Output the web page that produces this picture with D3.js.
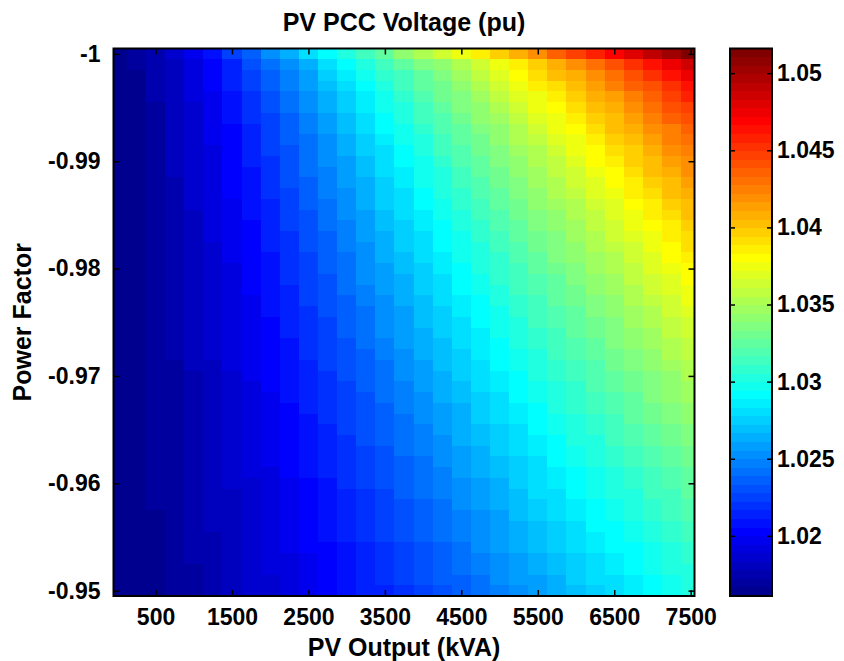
<!DOCTYPE html>
<html>
<head>
<meta charset="utf-8">
<script src="https://cdnjs.cloudflare.com/ajax/libs/d3/7.8.5/d3.min.js"></script>
<style>
  body { margin: 0; background: #fff; }
  text { font-family: "Liberation Sans", Arial, Helvetica, sans-serif; font-weight: bold; fill: #000; }
</style>
</head>
<body>
<div id="chart"></div>
<script>
// PV output levels (kVA), one column each
const pvOutput = [0, 250, 500, 750, 1000, 1250, 1500, 1750, 2000, 2250, 2500, 2750, 3000, 3250, 3500, 3750,
  4000, 4250, 4500, 4750, 5000, 5250, 5500, 5750, 6000, 6250, 6500, 6750, 7000, 7250, 7500];

// power factor levels, top row first
const powerFactor = [
  -1.000, -0.999, -0.998, -0.997, -0.996, -0.995, -0.994, -0.993, -0.992, -0.991,
  -0.990, -0.989, -0.988, -0.987, -0.986, -0.985, -0.984, -0.983, -0.982, -0.981,
  -0.980, -0.979, -0.978, -0.977, -0.976, -0.975, -0.974, -0.973, -0.972, -0.971,
  -0.970, -0.969, -0.968, -0.967, -0.966, -0.965, -0.964, -0.963, -0.962, -0.961,
  -0.960, -0.959, -0.958, -0.957, -0.956, -0.955, -0.954, -0.953, -0.952, -0.951,
  -0.950
];

// PCC voltage (pu), one row per power factor, one value per pv output
const voltage = [
  [1.0161,1.0168,1.0177,1.0187,1.0198,1.0210,1.0224,1.0237,1.0251,1.0265,1.0278,1.0291,1.0303,1.0315,1.0327,1.0339,1.0350,1.0362,1.0374,1.0386,1.0398,1.0410,1.0421,1.0433,1.0445,1.0457,1.0469,1.0481,1.0492,1.0504,1.0516],
  [1.0161,1.0167,1.0175,1.0183,1.0193,1.0204,1.0216,1.0228,1.0241,1.0252,1.0265,1.0278,1.0290,1.0301,1.0312,1.0322,1.0333,1.0344,1.0355,1.0366,1.0377,1.0387,1.0398,1.0409,1.0420,1.0431,1.0442,1.0452,1.0463,1.0474,1.0485],
  [1.0161,1.0166,1.0174,1.0182,1.0192,1.0202,1.0214,1.0225,1.0236,1.0249,1.0260,1.0273,1.0284,1.0296,1.0306,1.0316,1.0327,1.0337,1.0348,1.0358,1.0369,1.0379,1.0389,1.0400,1.0410,1.0421,1.0431,1.0441,1.0452,1.0462,1.0473],
  [1.0161,1.0166,1.0173,1.0181,1.0190,1.0201,1.0212,1.0223,1.0234,1.0245,1.0257,1.0268,1.0280,1.0292,1.0302,1.0312,1.0322,1.0332,1.0342,1.0352,1.0362,1.0372,1.0383,1.0393,1.0403,1.0413,1.0423,1.0433,1.0443,1.0453,1.0463],
  [1.0161,1.0166,1.0173,1.0181,1.0189,1.0199,1.0209,1.0220,1.0231,1.0243,1.0255,1.0265,1.0276,1.0287,1.0298,1.0308,1.0318,1.0328,1.0337,1.0347,1.0357,1.0367,1.0377,1.0387,1.0396,1.0406,1.0416,1.0426,1.0436,1.0446,1.0456],
  [1.0161,1.0166,1.0172,1.0180,1.0188,1.0198,1.0208,1.0218,1.0229,1.0241,1.0251,1.0263,1.0273,1.0284,1.0295,1.0304,1.0314,1.0324,1.0333,1.0343,1.0352,1.0362,1.0372,1.0381,1.0391,1.0401,1.0410,1.0420,1.0429,1.0439,1.0449],
  [1.0161,1.0165,1.0172,1.0179,1.0188,1.0197,1.0206,1.0217,1.0227,1.0238,1.0249,1.0260,1.0271,1.0281,1.0292,1.0301,1.0311,1.0320,1.0329,1.0339,1.0348,1.0358,1.0367,1.0376,1.0386,1.0395,1.0405,1.0414,1.0424,1.0433,1.0442],
  [1.0161,1.0165,1.0172,1.0179,1.0187,1.0196,1.0205,1.0216,1.0226,1.0236,1.0247,1.0257,1.0268,1.0279,1.0289,1.0298,1.0308,1.0317,1.0326,1.0335,1.0344,1.0354,1.0363,1.0372,1.0381,1.0390,1.0400,1.0409,1.0418,1.0427,1.0437],
  [1.0161,1.0165,1.0172,1.0179,1.0186,1.0195,1.0204,1.0214,1.0224,1.0234,1.0244,1.0255,1.0265,1.0276,1.0286,1.0296,1.0305,1.0314,1.0323,1.0332,1.0341,1.0350,1.0359,1.0368,1.0377,1.0386,1.0395,1.0404,1.0413,1.0422,1.0431],
  [1.0161,1.0165,1.0172,1.0179,1.0186,1.0194,1.0203,1.0213,1.0223,1.0233,1.0243,1.0254,1.0263,1.0273,1.0283,1.0293,1.0302,1.0311,1.0320,1.0329,1.0337,1.0346,1.0355,1.0364,1.0373,1.0382,1.0391,1.0399,1.0408,1.0417,1.0426],
  [1.0161,1.0165,1.0171,1.0178,1.0186,1.0194,1.0202,1.0212,1.0221,1.0230,1.0241,1.0251,1.0260,1.0271,1.0281,1.0291,1.0299,1.0308,1.0317,1.0325,1.0334,1.0343,1.0352,1.0360,1.0369,1.0378,1.0386,1.0395,1.0404,1.0413,1.0421],
  [1.0161,1.0165,1.0171,1.0178,1.0185,1.0193,1.0201,1.0210,1.0219,1.0229,1.0240,1.0249,1.0259,1.0268,1.0279,1.0287,1.0297,1.0305,1.0314,1.0323,1.0331,1.0340,1.0348,1.0357,1.0365,1.0374,1.0382,1.0391,1.0400,1.0408,1.0417],
  [1.0161,1.0165,1.0171,1.0177,1.0185,1.0192,1.0200,1.0209,1.0218,1.0228,1.0237,1.0247,1.0257,1.0266,1.0276,1.0285,1.0295,1.0303,1.0311,1.0320,1.0328,1.0337,1.0345,1.0353,1.0362,1.0370,1.0379,1.0387,1.0395,1.0404,1.0412],
  [1.0161,1.0165,1.0171,1.0177,1.0184,1.0191,1.0200,1.0208,1.0217,1.0226,1.0236,1.0245,1.0255,1.0264,1.0274,1.0283,1.0292,1.0301,1.0309,1.0317,1.0325,1.0334,1.0342,1.0350,1.0358,1.0367,1.0375,1.0383,1.0391,1.0400,1.0408],
  [1.0161,1.0165,1.0170,1.0176,1.0184,1.0191,1.0199,1.0207,1.0216,1.0225,1.0234,1.0243,1.0254,1.0263,1.0272,1.0281,1.0290,1.0298,1.0306,1.0314,1.0323,1.0331,1.0339,1.0347,1.0355,1.0363,1.0371,1.0380,1.0388,1.0396,1.0404],
  [1.0161,1.0165,1.0170,1.0176,1.0183,1.0190,1.0198,1.0206,1.0215,1.0224,1.0233,1.0242,1.0251,1.0260,1.0270,1.0279,1.0287,1.0296,1.0304,1.0312,1.0320,1.0328,1.0336,1.0344,1.0352,1.0360,1.0368,1.0376,1.0384,1.0392,1.0400],
  [1.0161,1.0165,1.0170,1.0176,1.0182,1.0189,1.0197,1.0205,1.0214,1.0223,1.0231,1.0241,1.0249,1.0258,1.0267,1.0276,1.0285,1.0294,1.0302,1.0310,1.0317,1.0325,1.0333,1.0341,1.0349,1.0357,1.0365,1.0373,1.0380,1.0388,1.0396],
  [1.0161,1.0165,1.0169,1.0175,1.0182,1.0189,1.0196,1.0204,1.0213,1.0221,1.0229,1.0238,1.0248,1.0257,1.0265,1.0274,1.0283,1.0292,1.0299,1.0307,1.0315,1.0323,1.0330,1.0338,1.0346,1.0354,1.0361,1.0369,1.0377,1.0385,1.0392],
  [1.0161,1.0165,1.0169,1.0175,1.0182,1.0188,1.0196,1.0203,1.0212,1.0220,1.0228,1.0237,1.0247,1.0255,1.0264,1.0272,1.0281,1.0290,1.0297,1.0305,1.0313,1.0320,1.0328,1.0335,1.0343,1.0351,1.0358,1.0366,1.0374,1.0381,1.0389],
  [1.0161,1.0165,1.0169,1.0175,1.0181,1.0188,1.0195,1.0203,1.0210,1.0219,1.0227,1.0236,1.0244,1.0254,1.0262,1.0271,1.0279,1.0287,1.0295,1.0303,1.0310,1.0318,1.0325,1.0333,1.0340,1.0348,1.0355,1.0363,1.0370,1.0378,1.0385],
  [1.0161,1.0164,1.0169,1.0175,1.0181,1.0187,1.0194,1.0202,1.0209,1.0218,1.0226,1.0234,1.0243,1.0251,1.0260,1.0268,1.0276,1.0285,1.0293,1.0300,1.0308,1.0315,1.0323,1.0330,1.0337,1.0345,1.0352,1.0360,1.0367,1.0374,1.0382],
  [1.0161,1.0164,1.0169,1.0175,1.0180,1.0186,1.0194,1.0201,1.0208,1.0217,1.0225,1.0233,1.0241,1.0250,1.0258,1.0266,1.0275,1.0283,1.0291,1.0298,1.0306,1.0313,1.0320,1.0327,1.0335,1.0342,1.0349,1.0357,1.0364,1.0371,1.0378],
  [1.0161,1.0164,1.0169,1.0175,1.0180,1.0186,1.0193,1.0200,1.0207,1.0216,1.0224,1.0231,1.0240,1.0248,1.0256,1.0265,1.0273,1.0281,1.0289,1.0296,1.0303,1.0311,1.0318,1.0325,1.0332,1.0339,1.0346,1.0354,1.0361,1.0368,1.0375],
  [1.0161,1.0164,1.0169,1.0174,1.0179,1.0186,1.0192,1.0199,1.0207,1.0215,1.0223,1.0230,1.0238,1.0247,1.0255,1.0263,1.0271,1.0279,1.0286,1.0294,1.0301,1.0308,1.0315,1.0322,1.0330,1.0337,1.0344,1.0351,1.0358,1.0365,1.0372],
  [1.0161,1.0164,1.0169,1.0174,1.0179,1.0186,1.0192,1.0199,1.0206,1.0214,1.0221,1.0229,1.0237,1.0244,1.0252,1.0260,1.0268,1.0276,1.0284,1.0292,1.0299,1.0306,1.0313,1.0320,1.0327,1.0334,1.0341,1.0348,1.0355,1.0362,1.0369],
  [1.0161,1.0164,1.0169,1.0174,1.0179,1.0185,1.0191,1.0198,1.0205,1.0213,1.0220,1.0227,1.0235,1.0243,1.0251,1.0259,1.0267,1.0275,1.0282,1.0290,1.0297,1.0304,1.0311,1.0318,1.0325,1.0331,1.0338,1.0345,1.0352,1.0359,1.0366],
  [1.0161,1.0164,1.0169,1.0173,1.0179,1.0185,1.0191,1.0197,1.0204,1.0212,1.0219,1.0226,1.0234,1.0242,1.0250,1.0257,1.0265,1.0273,1.0281,1.0287,1.0295,1.0302,1.0309,1.0315,1.0322,1.0329,1.0336,1.0342,1.0349,1.0356,1.0363],
  [1.0161,1.0164,1.0168,1.0173,1.0179,1.0184,1.0190,1.0197,1.0203,1.0210,1.0218,1.0225,1.0233,1.0240,1.0248,1.0256,1.0263,1.0271,1.0279,1.0285,1.0293,1.0300,1.0306,1.0313,1.0320,1.0326,1.0333,1.0340,1.0346,1.0353,1.0360],
  [1.0161,1.0164,1.0168,1.0173,1.0178,1.0184,1.0189,1.0196,1.0202,1.0209,1.0217,1.0224,1.0231,1.0238,1.0247,1.0254,1.0262,1.0268,1.0276,1.0284,1.0291,1.0298,1.0304,1.0311,1.0317,1.0324,1.0330,1.0337,1.0344,1.0350,1.0357],
  [1.0161,1.0164,1.0168,1.0172,1.0178,1.0183,1.0189,1.0195,1.0202,1.0208,1.0216,1.0223,1.0229,1.0237,1.0244,1.0252,1.0259,1.0267,1.0274,1.0282,1.0289,1.0296,1.0302,1.0309,1.0315,1.0321,1.0328,1.0334,1.0341,1.0347,1.0354],
  [1.0161,1.0164,1.0168,1.0172,1.0177,1.0183,1.0188,1.0195,1.0201,1.0207,1.0215,1.0221,1.0228,1.0236,1.0243,1.0250,1.0258,1.0265,1.0273,1.0280,1.0286,1.0294,1.0300,1.0306,1.0313,1.0319,1.0325,1.0332,1.0338,1.0344,1.0351],
  [1.0161,1.0164,1.0168,1.0172,1.0177,1.0182,1.0188,1.0194,1.0200,1.0206,1.0214,1.0220,1.0227,1.0234,1.0242,1.0249,1.0256,1.0264,1.0271,1.0278,1.0284,1.0292,1.0298,1.0304,1.0310,1.0317,1.0323,1.0329,1.0335,1.0342,1.0348],
  [1.0161,1.0164,1.0168,1.0172,1.0177,1.0182,1.0187,1.0193,1.0199,1.0206,1.0213,1.0219,1.0226,1.0233,1.0240,1.0248,1.0255,1.0262,1.0268,1.0275,1.0282,1.0290,1.0296,1.0302,1.0308,1.0314,1.0321,1.0327,1.0333,1.0339,1.0345],
  [1.0161,1.0164,1.0168,1.0172,1.0176,1.0181,1.0186,1.0193,1.0199,1.0205,1.0212,1.0218,1.0225,1.0231,1.0238,1.0245,1.0252,1.0259,1.0266,1.0274,1.0281,1.0287,1.0294,1.0300,1.0306,1.0312,1.0318,1.0324,1.0330,1.0336,1.0342],
  [1.0161,1.0164,1.0168,1.0172,1.0176,1.0181,1.0186,1.0192,1.0198,1.0204,1.0210,1.0217,1.0224,1.0230,1.0237,1.0244,1.0251,1.0258,1.0265,1.0272,1.0279,1.0285,1.0292,1.0298,1.0304,1.0310,1.0316,1.0322,1.0328,1.0334,1.0340],
  [1.0161,1.0164,1.0168,1.0172,1.0176,1.0181,1.0186,1.0191,1.0197,1.0203,1.0209,1.0216,1.0223,1.0229,1.0236,1.0243,1.0249,1.0256,1.0263,1.0270,1.0276,1.0283,1.0290,1.0296,1.0302,1.0308,1.0313,1.0319,1.0325,1.0331,1.0337],
  [1.0161,1.0164,1.0168,1.0171,1.0175,1.0180,1.0186,1.0191,1.0197,1.0202,1.0208,1.0215,1.0221,1.0228,1.0234,1.0241,1.0248,1.0255,1.0262,1.0267,1.0274,1.0281,1.0287,1.0294,1.0300,1.0305,1.0311,1.0317,1.0323,1.0329,1.0334],
  [1.0161,1.0164,1.0167,1.0171,1.0175,1.0180,1.0185,1.0190,1.0196,1.0202,1.0207,1.0214,1.0220,1.0226,1.0233,1.0240,1.0247,1.0252,1.0259,1.0266,1.0273,1.0279,1.0285,1.0292,1.0297,1.0303,1.0309,1.0315,1.0320,1.0326,1.0332],
  [1.0161,1.0164,1.0167,1.0171,1.0175,1.0179,1.0185,1.0189,1.0195,1.0201,1.0206,1.0213,1.0219,1.0225,1.0231,1.0238,1.0244,1.0251,1.0258,1.0264,1.0271,1.0276,1.0283,1.0290,1.0295,1.0301,1.0307,1.0312,1.0318,1.0324,1.0329],
  [1.0161,1.0164,1.0167,1.0171,1.0175,1.0179,1.0184,1.0189,1.0194,1.0200,1.0206,1.0212,1.0218,1.0224,1.0230,1.0236,1.0243,1.0249,1.0256,1.0263,1.0268,1.0275,1.0281,1.0287,1.0293,1.0299,1.0304,1.0310,1.0316,1.0321,1.0327],
  [1.0161,1.0163,1.0167,1.0170,1.0175,1.0179,1.0184,1.0188,1.0194,1.0199,1.0205,1.0210,1.0217,1.0223,1.0229,1.0235,1.0242,1.0248,1.0254,1.0260,1.0266,1.0273,1.0279,1.0285,1.0291,1.0297,1.0302,1.0308,1.0313,1.0319,1.0324],
  [1.0161,1.0163,1.0167,1.0170,1.0175,1.0179,1.0183,1.0188,1.0193,1.0198,1.0204,1.0209,1.0216,1.0221,1.0227,1.0234,1.0240,1.0247,1.0252,1.0258,1.0265,1.0271,1.0278,1.0283,1.0289,1.0295,1.0300,1.0305,1.0311,1.0316,1.0322],
  [1.0161,1.0163,1.0167,1.0170,1.0174,1.0179,1.0183,1.0187,1.0192,1.0198,1.0203,1.0208,1.0215,1.0220,1.0226,1.0233,1.0238,1.0244,1.0250,1.0257,1.0263,1.0268,1.0275,1.0281,1.0286,1.0293,1.0298,1.0303,1.0309,1.0314,1.0319],
  [1.0161,1.0163,1.0166,1.0170,1.0174,1.0178,1.0182,1.0187,1.0192,1.0197,1.0202,1.0207,1.0214,1.0219,1.0225,1.0230,1.0237,1.0243,1.0249,1.0255,1.0260,1.0267,1.0273,1.0279,1.0284,1.0291,1.0296,1.0301,1.0306,1.0311,1.0317],
  [1.0161,1.0163,1.0166,1.0169,1.0174,1.0178,1.0182,1.0186,1.0191,1.0196,1.0201,1.0207,1.0213,1.0218,1.0224,1.0229,1.0235,1.0241,1.0248,1.0254,1.0259,1.0265,1.0271,1.0276,1.0282,1.0289,1.0294,1.0299,1.0304,1.0309,1.0314],
  [1.0161,1.0163,1.0166,1.0169,1.0173,1.0177,1.0181,1.0186,1.0190,1.0196,1.0201,1.0206,1.0212,1.0217,1.0223,1.0228,1.0234,1.0240,1.0245,1.0251,1.0257,1.0263,1.0268,1.0274,1.0280,1.0286,1.0292,1.0297,1.0302,1.0307,1.0312],
  [1.0161,1.0163,1.0166,1.0169,1.0173,1.0177,1.0181,1.0186,1.0190,1.0195,1.0200,1.0205,1.0210,1.0216,1.0221,1.0227,1.0233,1.0238,1.0244,1.0250,1.0256,1.0262,1.0267,1.0273,1.0279,1.0284,1.0289,1.0294,1.0299,1.0304,1.0309],
  [1.0161,1.0163,1.0166,1.0169,1.0173,1.0177,1.0180,1.0185,1.0189,1.0194,1.0199,1.0204,1.0209,1.0215,1.0220,1.0226,1.0230,1.0236,1.0242,1.0248,1.0254,1.0259,1.0265,1.0271,1.0276,1.0282,1.0286,1.0292,1.0297,1.0302,1.0307],
  [1.0161,1.0163,1.0166,1.0169,1.0172,1.0176,1.0180,1.0185,1.0189,1.0193,1.0198,1.0203,1.0208,1.0214,1.0219,1.0224,1.0229,1.0235,1.0241,1.0247,1.0251,1.0257,1.0263,1.0268,1.0274,1.0280,1.0284,1.0290,1.0295,1.0300,1.0305],
  [1.0161,1.0163,1.0165,1.0169,1.0172,1.0176,1.0179,1.0184,1.0188,1.0193,1.0197,1.0202,1.0207,1.0213,1.0217,1.0223,1.0228,1.0234,1.0238,1.0244,1.0250,1.0256,1.0260,1.0266,1.0272,1.0278,1.0282,1.0287,1.0293,1.0298,1.0302],
  [1.0161,1.0163,1.0165,1.0169,1.0172,1.0175,1.0179,1.0184,1.0187,1.0192,1.0197,1.0201,1.0206,1.0212,1.0216,1.0221,1.0227,1.0231,1.0237,1.0243,1.0248,1.0254,1.0260,1.0264,1.0270,1.0276,1.0280,1.0285,1.0291,1.0295,1.0300]
];

// tick labels
const xTicks = [500, 1500, 2500, 3500, 4500, 5500, 6500, 7500];
const yTicks = [-1, -0.99, -0.98, -0.97, -0.96, -0.95];
const cbTicks = [1.02, 1.025, 1.03, 1.035, 1.04, 1.045, 1.05];

/* layout */
const W = 844, H = 661;
const plot = { left: 113.5, right: 694.5, top: 48.5, bottom: 596 };
const cbar = { left: 730, right: 772 };
const colStep = 250, rowStep = 0.001;

// MATLAB style jet(64)
function jetMap(m) {
  const n = Math.ceil(m / 4);
  const u = [];
  for (let i = 1; i <= n; i++) u.push(i / n);
  for (let i = 1; i < n; i++) u.push(1);
  for (let i = n; i >= 1; i--) u.push(i / n);
  const base = Math.ceil(n / 2) - (m % 4 === 1 ? 1 : 0);
  const J = d3.range(m).map(() => [0, 0, 0]);
  u.forEach((val, k) => {
    const g = base + k + 1, r = g + n, b = g - n;
    if (g <= m) J[g - 1][1] = val;
    if (r <= m) J[r - 1][0] = val;
    if (b >= 1) J[b - 1][2] = val;
  });
  return J.map(c => d3.rgb(c[0] * 255, c[1] * 255, c[2] * 255).formatHex());
}
const jet = jetMap(64);

const allValues = voltage.flat();
const [cmin, cmax] = d3.extent(allValues);
function colour(v) {
  let idx = Math.floor((v - cmin) / (cmax - cmin) * jet.length);
  idx = Math.max(0, Math.min(jet.length - 1, idx));
  return jet[idx];
}

/* scales */
const x = d3.scaleLinear()
    .domain([pvOutput[0] - 50, pvOutput[pvOutput.length - 1] + 50])
    .range([plot.left, plot.right]);
const y = d3.scaleLinear()
    .domain([powerFactor[0] - rowStep / 2, powerFactor[powerFactor.length - 1] + rowStep / 2])
    .range([plot.top, plot.bottom]);
const cy = d3.scaleLinear()
    .domain([cmin, cmax])
    .range([plot.bottom, plot.top]);

const svg = d3.select('#chart').append('svg')
    .attr('width', W)
    .attr('height', H)
    .style('background', '#fff');

// heatmap cells
const cells = [];
powerFactor.forEach((pf, i) => {
  pvOutput.forEach((pv, j) => {
    cells.push({ pf, pv, v: voltage[i][j] });
  });
});
const [xLo, xHi] = x.domain();
svg.append('g')
    .attr('shape-rendering', 'crispEdges')
  .selectAll('rect')
  .data(cells)
  .join('rect')
    .attr('x', d => x(Math.max(xLo, d.pv - colStep / 2)))
    .attr('width', d => x(Math.min(xHi, d.pv + colStep / 2)) - x(Math.max(xLo, d.pv - colStep / 2)))
    .attr('y', d => y(d.pf - rowStep / 2))
    .attr('height', d => y(d.pf + rowStep / 2) - y(d.pf - rowStep / 2))
    .attr('fill', d => colour(d.v));

// axes with inward ticks on all four sides
const fmt = d => String(d);
function styleAxis(g) {
  g.select('.domain').remove();
  g.selectAll('.tick line').attr('stroke', '#000').attr('stroke-width', 1.5);
  g.selectAll('.tick text').style('font-size', '23px').attr('fill', '#000');
}
svg.append('g')
    .attr('transform', `translate(0,${plot.bottom})`)
    .call(d3.axisBottom(x).tickValues(xTicks).tickFormat(fmt).tickSizeInner(-6).tickSizeOuter(0).tickPadding(13))
    .call(styleAxis);
svg.append('g')
    .attr('transform', `translate(0,${plot.top})`)
    .call(d3.axisTop(x).tickValues(xTicks).tickFormat('').tickSizeInner(-6).tickSizeOuter(0))
    .call(styleAxis);
svg.append('g')
    .attr('transform', `translate(${plot.left},0)`)
    .call(d3.axisLeft(y).tickValues(yTicks).tickFormat(fmt).tickSizeInner(-6).tickSizeOuter(0).tickPadding(13))
    .call(styleAxis);
svg.append('g')
    .attr('transform', `translate(${plot.right},0)`)
    .call(d3.axisRight(y).tickValues(yTicks).tickFormat('').tickSizeInner(-6).tickSizeOuter(0))
    .call(styleAxis);

svg.append('rect')
    .attr('x', plot.left).attr('y', plot.top)
    .attr('width', plot.right - plot.left).attr('height', plot.bottom - plot.top)
    .attr('fill', 'none').attr('stroke', '#000').attr('stroke-width', 2);

// colour bar
const step = (cmax - cmin) / jet.length;
svg.append('g')
    .attr('shape-rendering', 'crispEdges')
  .selectAll('rect')
  .data(jet)
  .join('rect')
    .attr('x', cbar.left)
    .attr('width', cbar.right - cbar.left)
    .attr('y', (c, i) => cy(cmin + (i + 1) * step))
    .attr('height', (c, i) => cy(cmin + i * step) - cy(cmin + (i + 1) * step))
    .attr('fill', c => c);

svg.append('g')
    .attr('transform', `translate(${cbar.right},0)`)
    .call(d3.axisRight(cy).tickValues(cbTicks).tickFormat(fmt).tickSizeInner(-5).tickSizeOuter(0).tickPadding(5))
    .call(styleAxis);
svg.append('g')
    .attr('transform', `translate(${cbar.left},0)`)
    .call(d3.axisLeft(cy).tickValues(cbTicks).tickFormat('').tickSizeInner(-5).tickSizeOuter(0))
    .call(styleAxis);

svg.append('rect')
    .attr('x', cbar.left).attr('y', plot.top)
    .attr('width', cbar.right - cbar.left).attr('height', plot.bottom - plot.top)
    .attr('fill', 'none').attr('stroke', '#000').attr('stroke-width', 2);

// titles
const midX = (plot.left + plot.right) / 2;
svg.append('text')
    .attr('x', midX).attr('y', 31)
    .attr('text-anchor', 'middle')
    .style('font-size', '25px')
    .text('PV PCC Voltage (pu)');
svg.append('text')
    .attr('x', midX).attr('y', 656)
    .attr('text-anchor', 'middle')
    .style('font-size', '25px')
    .text('PV Output (kVA)');
svg.append('text')
    .attr('transform', `translate(31,${(plot.top + plot.bottom) / 2}) rotate(-90)`)
    .attr('text-anchor', 'middle')
    .style('font-size', '25px')
    .text('Power Factor');
</script>
</body>
</html>
